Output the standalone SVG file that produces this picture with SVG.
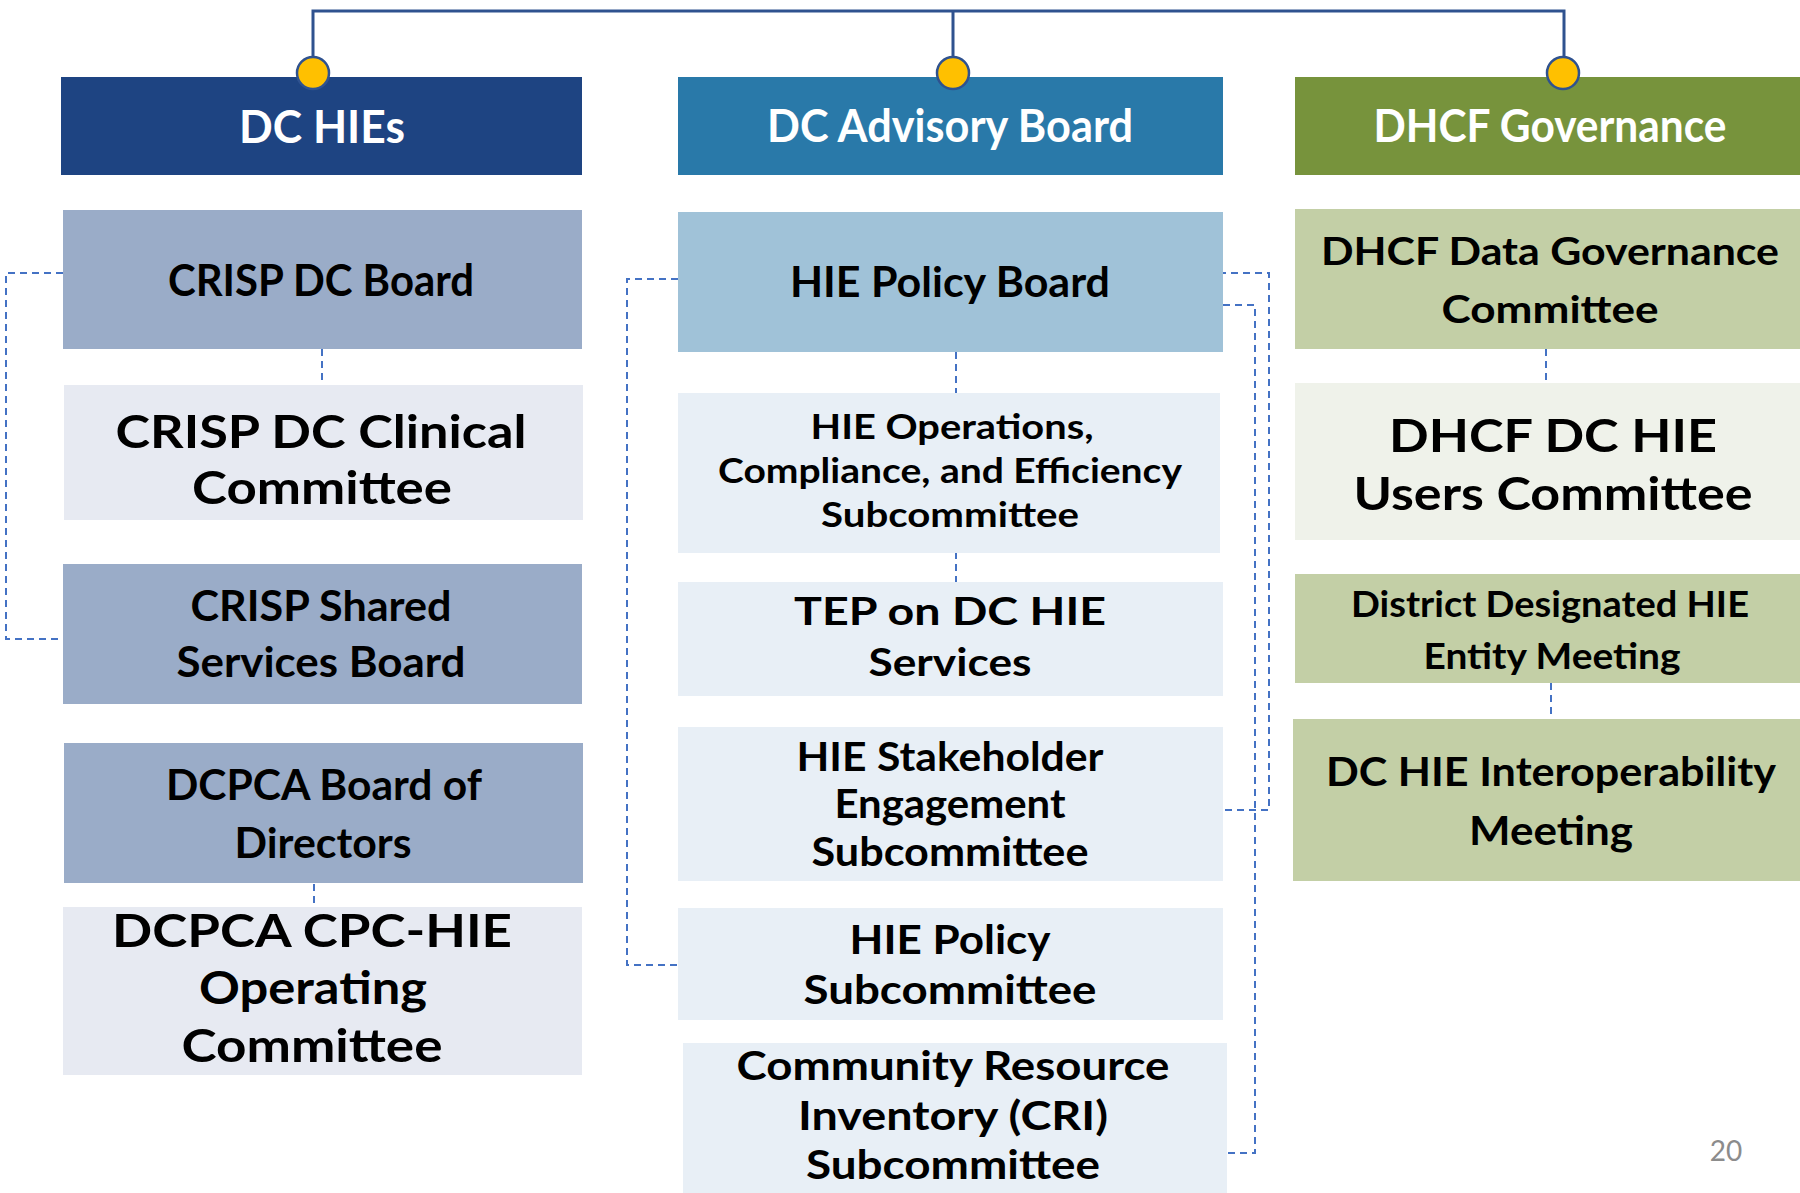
<svg xmlns="http://www.w3.org/2000/svg" width="1800" height="1193" viewBox="0 0 1800 1193">
<style>
text{font-family:Lato,"Open Sans","Liberation Sans",sans-serif;font-weight:700;text-anchor:middle;fill:#000}
.hd{fill:#fff}
.dash{fill:none;stroke:#4472C4;stroke-width:2;stroke-dasharray:7 5}
.top{fill:none;stroke:#2F528F;stroke-width:3}
.dot{fill:#FFC000;stroke:#2F528F;stroke-width:2.5}
.c1d{fill:#9AACC8}.c1l{fill:#E7EAF2}
.c2d{fill:#A0C2D8}.c2l{fill:#E8EFF6}
.c3d{fill:#C3CFA6}.c3l{fill:#EFF2EA}
.pg{fill:#8C8C8C;font-weight:400}
</style>
<rect width="1800" height="1193" fill="#fff"/>

<g id="connectors">
<path class="top" d="M313,58 V11 H1564 V58 M953,11 V58"/>
<path class="dash" d="M63,273 H6 V639 H63"/>
<path class="dash" d="M322,349 V386"/>
<path class="dash" d="M314,872 V907"/>
<path class="dash" d="M678,279 H627 V965 H678"/>
<path class="dash" d="M956,352 V393"/>
<path class="dash" d="M956,552 V582"/>
<path class="dash" d="M1219,273 H1269 V810 H1221"/>
<path class="dash" d="M1223,305 H1255 V1153 H1225"/>
<path class="dash" d="M1546,349 V383"/>
<path class="dash" d="M1551,683 V719"/>
</g>

<g id="dc-hies">
<rect x="61" y="77" width="521" height="98" fill="#1E4482"/>
<text class="hd" x="322" y="143" font-size="46" textLength="166" lengthAdjust="spacingAndGlyphs">DC HIEs</text>
</g>
<g id="dc-advisory-board">
<rect x="678" y="77" width="545" height="98" fill="#2979A9"/>
<text class="hd" x="950" y="142" font-size="46" textLength="366" lengthAdjust="spacingAndGlyphs">DC Advisory Board</text>
</g>
<g id="dhcf-governance">
<rect x="1295" y="77" width="505" height="98" fill="#77933C"/>
<text class="hd" x="1550" y="142" font-size="46" textLength="353" lengthAdjust="spacingAndGlyphs">DHCF Governance</text>
</g>

<g id="dots">
<circle class="dot" cx="313" cy="73" r="16"/>
<circle class="dot" cx="953" cy="73" r="16"/>
<circle class="dot" cx="1563" cy="73" r="16"/>
</g>

<g id="crisp-dc-board">
<rect class="c1d" x="63" y="210" width="519" height="139"/>
<text x="321" y="296" font-size="43" textLength="306" lengthAdjust="spacingAndGlyphs">CRISP DC Board</text>
</g>
<g id="crisp-dc-clinical-committee">
<rect class="c1l" x="64" y="385" width="519" height="135"/>
<text x="321" y="448" font-size="46" textLength="411" lengthAdjust="spacingAndGlyphs">CRISP DC Clinical</text>
<text x="322" y="504" font-size="46" textLength="260" lengthAdjust="spacingAndGlyphs">Committee</text>
</g>
<g id="crisp-shared-services-board">
<rect class="c1d" x="63" y="564" width="519" height="140"/>
<text x="321" y="621" font-size="42" textLength="261" lengthAdjust="spacingAndGlyphs">CRISP Shared</text>
<text x="321" y="677" font-size="42" textLength="289" lengthAdjust="spacingAndGlyphs">Services Board</text>
</g>
<g id="dcpca-board-of-directors">
<rect class="c1d" x="64" y="743" width="519" height="140"/>
<text x="324" y="800" font-size="42" textLength="316" lengthAdjust="spacingAndGlyphs">DCPCA Board of</text>
<text x="323" y="858" font-size="42" textLength="177" lengthAdjust="spacingAndGlyphs">Directors</text>
</g>
<g id="dcpca-cpc-hie-operating-committee">
<rect class="c1l" x="63" y="907" width="519" height="168"/>
<text x="312" y="947" font-size="45" textLength="400" lengthAdjust="spacingAndGlyphs">DCPCA CPC-HIE</text>
<text x="313" y="1004" font-size="45" textLength="228" lengthAdjust="spacingAndGlyphs">Operating</text>
<text x="312" y="1062" font-size="45" textLength="261" lengthAdjust="spacingAndGlyphs">Committee</text>
</g>

<g id="hie-policy-board">
<rect class="c2d" x="678" y="212" width="545" height="140"/>
<text x="950" y="297" font-size="42" textLength="320" lengthAdjust="spacingAndGlyphs">HIE Policy Board</text>
</g>
<g id="hie-operations-subcommittee">
<rect class="c2l" x="678" y="393" width="542" height="160"/>
<text x="952" y="439" font-size="34" textLength="283" lengthAdjust="spacingAndGlyphs">HIE Operations,</text>
<text x="950" y="483" font-size="34" textLength="464" lengthAdjust="spacingAndGlyphs">Compliance, and Efficiency</text>
<text x="950" y="527" font-size="34" textLength="258" lengthAdjust="spacingAndGlyphs">Subcommittee</text>
</g>
<g id="tep-on-dc-hie-services">
<rect class="c2l" x="678" y="582" width="545" height="114"/>
<text x="950" y="625" font-size="39" textLength="312" lengthAdjust="spacingAndGlyphs">TEP on DC HIE</text>
<text x="950" y="676" font-size="39" textLength="163" lengthAdjust="spacingAndGlyphs">Services</text>
</g>
<g id="hie-stakeholder-engagement-subcommittee">
<rect class="c2l" x="678" y="727" width="545" height="154"/>
<text x="950" y="771" font-size="40" textLength="307" lengthAdjust="spacingAndGlyphs">HIE Stakeholder</text>
<text x="950" y="818" font-size="40" textLength="231" lengthAdjust="spacingAndGlyphs">Engagement</text>
<text x="950" y="866" font-size="40" textLength="277" lengthAdjust="spacingAndGlyphs">Subcommittee</text>
</g>
<g id="hie-policy-subcommittee">
<rect class="c2l" x="678" y="908" width="545" height="112"/>
<text x="950" y="954" font-size="40" textLength="201" lengthAdjust="spacingAndGlyphs">HIE Policy</text>
<text x="950" y="1004" font-size="40" textLength="293" lengthAdjust="spacingAndGlyphs">Subcommittee</text>
</g>
<g id="cri-subcommittee">
<rect class="c2l" x="683" y="1043" width="544" height="150"/>
<text x="953" y="1080" font-size="40" textLength="433" lengthAdjust="spacingAndGlyphs">Community Resource</text>
<text x="953" y="1130" font-size="40" textLength="310" lengthAdjust="spacingAndGlyphs">Inventory (CRI)</text>
<text x="953" y="1179" font-size="40" textLength="294" lengthAdjust="spacingAndGlyphs">Subcommittee</text>
</g>

<g id="dhcf-data-governance-committee">
<rect class="c3d" x="1295" y="209" width="505" height="140"/>
<text x="1550" y="265" font-size="38" textLength="458" lengthAdjust="spacingAndGlyphs">DHCF Data Governance</text>
<text x="1550" y="323" font-size="38" textLength="217" lengthAdjust="spacingAndGlyphs">Committee</text>
</g>
<g id="dhcf-dc-hie-users-committee">
<rect class="c3l" x="1295" y="383" width="505" height="157"/>
<text x="1553" y="452" font-size="45" textLength="328" lengthAdjust="spacingAndGlyphs">DHCF DC HIE</text>
<text x="1553" y="510" font-size="45" textLength="399" lengthAdjust="spacingAndGlyphs">Users Committee</text>
</g>
<g id="district-designated-hie-entity-meeting">
<rect class="c3d" x="1295" y="574" width="505" height="109"/>
<text x="1550" y="617" font-size="36" textLength="398" lengthAdjust="spacingAndGlyphs">District Designated HIE</text>
<text x="1552" y="669" font-size="36" textLength="257" lengthAdjust="spacingAndGlyphs">Entity Meeting</text>
</g>
<g id="dc-hie-interoperability-meeting">
<rect class="c3d" x="1293" y="719" width="507" height="162"/>
<text x="1551" y="786" font-size="40" textLength="450" lengthAdjust="spacingAndGlyphs">DC HIE Interoperability</text>
<text x="1551" y="845" font-size="40" textLength="164" lengthAdjust="spacingAndGlyphs">Meeting</text>
</g>

<text class="pg" x="1726" y="1161" font-size="28">20</text>
</svg>
